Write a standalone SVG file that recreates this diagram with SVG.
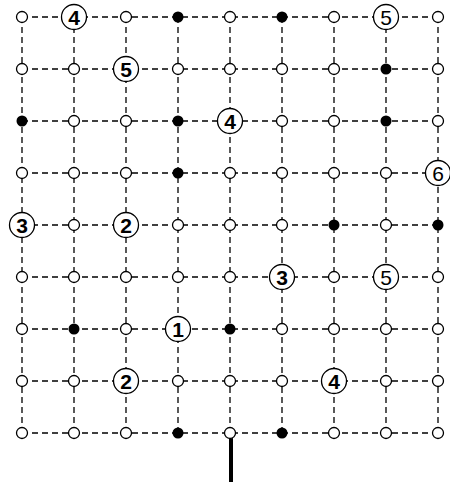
<svg xmlns="http://www.w3.org/2000/svg" width="450" height="486" viewBox="0 0 450 486">
<style>
.g{stroke:#000;stroke-width:1.3;stroke-dasharray:6,4;fill:none}
.o{fill:#fff;stroke:#000;stroke-width:1.3}
.b{fill:#000;stroke:none}
.n{fill:#fff;stroke:#000;stroke-width:1.3}
.t{font-family:"Liberation Sans",Arial,sans-serif;font-size:21px;text-anchor:middle;fill:#000}
.bd{font-weight:bold}
</style>
<rect width="450" height="486" fill="#fff"/>
<defs>
<circle id="o" r="5.5" class="o"/>
<circle id="k" r="5.5" class="b"/>
</defs>
<g id="connectors">
<path class="g" d="M22 17H438M22 69H438M22 121H438M22 173H438M22 225H438M22 277H438M22 329H438M22 381H438M22 433H438"/>
<path class="g" d="M22 17V433M74 17V433M126 17V433M178 17V433M230 17V433M282 17V433M334 17V433M386 17V433M438 17V433"/>
<line x1="231" y1="438" x2="231" y2="482" stroke="#000" stroke-width="4"/>
</g>
<g id="points">
<use href="#o" x="22" y="17"/><use href="#o" x="126" y="17"/><use href="#k" x="178" y="17"/><use href="#o" x="230" y="17"/><use href="#k" x="282" y="17"/><use href="#o" x="334" y="17"/><use href="#o" x="438" y="17"/>
<use href="#o" x="22" y="69"/><use href="#o" x="74" y="69"/><use href="#o" x="178" y="69"/><use href="#o" x="230" y="69"/><use href="#o" x="282" y="69"/><use href="#o" x="334" y="69"/><use href="#k" x="386" y="69"/><use href="#o" x="438" y="69"/>
<use href="#k" x="22" y="121"/><use href="#o" x="74" y="121"/><use href="#o" x="126" y="121"/><use href="#k" x="178" y="121"/><use href="#o" x="282" y="121"/><use href="#o" x="334" y="121"/><use href="#k" x="386" y="121"/><use href="#o" x="438" y="121"/>
<use href="#o" x="22" y="173"/><use href="#o" x="74" y="173"/><use href="#o" x="126" y="173"/><use href="#k" x="178" y="173"/><use href="#o" x="230" y="173"/><use href="#o" x="282" y="173"/><use href="#o" x="334" y="173"/><use href="#o" x="386" y="173"/>
<use href="#o" x="74" y="225"/><use href="#o" x="178" y="225"/><use href="#o" x="230" y="225"/><use href="#o" x="282" y="225"/><use href="#k" x="334" y="225"/><use href="#o" x="386" y="225"/><use href="#k" x="438" y="225"/>
<use href="#o" x="22" y="277"/><use href="#o" x="74" y="277"/><use href="#o" x="126" y="277"/><use href="#o" x="178" y="277"/><use href="#o" x="230" y="277"/><use href="#o" x="334" y="277"/><use href="#o" x="438" y="277"/>
<use href="#o" x="22" y="329"/><use href="#k" x="74" y="329"/><use href="#o" x="126" y="329"/><use href="#k" x="230" y="329"/><use href="#o" x="282" y="329"/><use href="#o" x="334" y="329"/><use href="#o" x="386" y="329"/><use href="#o" x="438" y="329"/>
<use href="#o" x="22" y="381"/><use href="#o" x="74" y="381"/><use href="#o" x="178" y="381"/><use href="#o" x="230" y="381"/><use href="#o" x="282" y="381"/><use href="#o" x="386" y="381"/><use href="#o" x="438" y="381"/>
<use href="#o" x="22" y="433"/><use href="#o" x="74" y="433"/><use href="#o" x="126" y="433"/><use href="#k" x="178" y="433"/><use href="#o" x="230" y="433"/><use href="#k" x="282" y="433"/><use href="#o" x="334" y="433"/><use href="#o" x="386" y="433"/><use href="#o" x="438" y="433"/>
</g>
<g id="n-r0c1"><circle class="n" cx="74" cy="17" r="12.5"/><text class="t bd" x="74" y="24.5">4</text></g>
<g id="n-r0c7"><circle class="n" cx="386" cy="17" r="12.5"/><text class="t" x="386" y="24.5">5</text></g>
<g id="n-r1c2"><circle class="n" cx="126" cy="69" r="12.5"/><text class="t bd" x="126" y="76.5">5</text></g>
<g id="n-r2c4"><circle class="n" cx="230" cy="121" r="12.5"/><text class="t bd" x="230" y="128.5">4</text></g>
<g id="n-r3c8"><circle class="n" cx="438" cy="173" r="12.5"/><text class="t" x="438" y="180.5">6</text></g>
<g id="n-r4c0"><circle class="n" cx="22" cy="225" r="12.5"/><text class="t bd" x="22" y="232.5">3</text></g>
<g id="n-r4c2"><circle class="n" cx="126" cy="225" r="12.5"/><text class="t bd" x="126" y="232.5">2</text></g>
<g id="n-r5c5"><circle class="n" cx="282" cy="277" r="12.5"/><text class="t bd" x="282" y="284.5">3</text></g>
<g id="n-r5c7"><circle class="n" cx="386" cy="277" r="12.5"/><text class="t" x="386" y="284.5">5</text></g>
<g id="n-r6c3"><circle class="n" cx="178" cy="329" r="12.5"/><text class="t bd" x="178" y="336.5">1</text></g>
<g id="n-r7c2"><circle class="n" cx="126" cy="381" r="12.5"/><text class="t bd" x="126" y="388.5">2</text></g>
<g id="n-r7c6"><circle class="n" cx="334" cy="381" r="12.5"/><text class="t bd" x="334" y="388.5">4</text></g>
</svg>
